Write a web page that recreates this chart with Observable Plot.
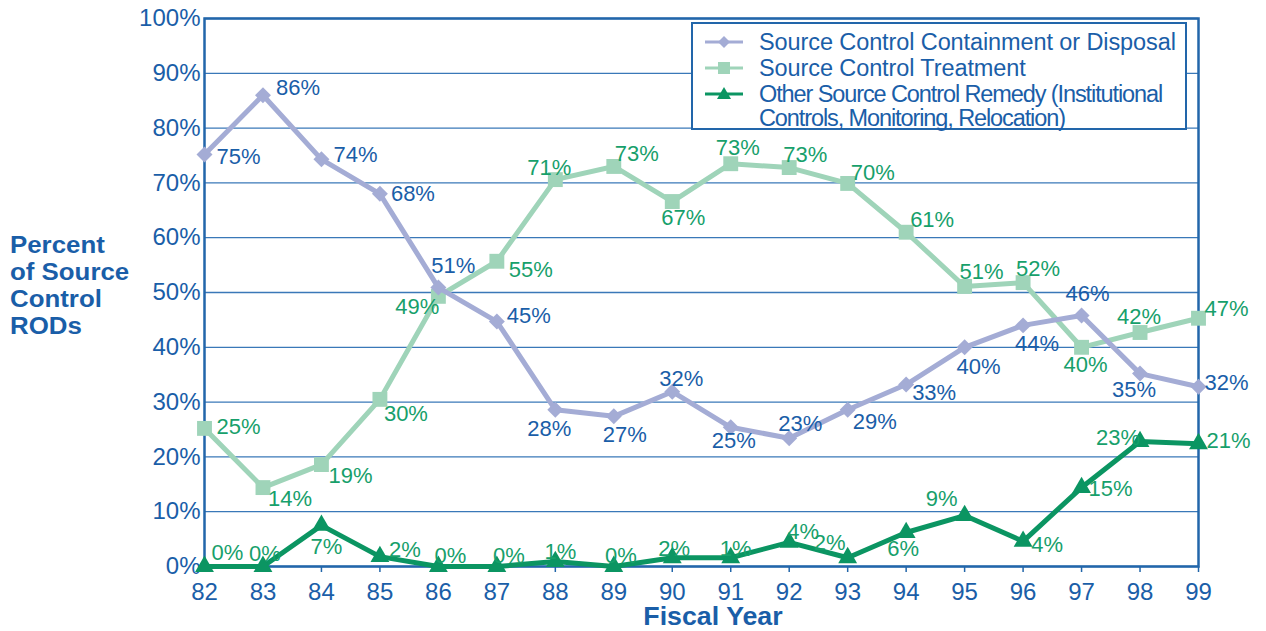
<!DOCTYPE html>
<html>
<head>
<meta charset="utf-8">
<script src="https://cdn.jsdelivr.net/npm/d3@7"></script>
<script src="https://cdn.jsdelivr.net/npm/@observablehq/plot@0.6"></script>
<style>
  html, body { margin: 0; padding: 0; background: #fff; }
  #wrap { position: relative; width: 1266px; height: 631px; overflow: hidden; font-family: "Liberation Sans", Arial, sans-serif; }
  #ytitle { position: absolute; left: 10px; top: 232px; font-weight: bold; font-size: 23.5px; line-height: 27px; color: #1a5ea8; transform: scaleX(1.1); transform-origin: left top; white-space: nowrap; }
  #xtitle { position: absolute; left: 713px; top: 602px; transform: translateX(-50%) scaleX(1.07); font-weight: bold; font-size: 25px; line-height: 29px; color: #1a5ea8; white-space: nowrap; }
  #legend { position: absolute; left: 691px; top: 22px; width: 492px; height: 104px; border: 2px solid #2266aa; background: #fff; color: #1a5ea8; font-size: 23.5px; }
  .item { position: absolute; left: 12px; display: flex; align-items: flex-start; }
  .item svg { flex: none; }
  .item span { margin-left: 16px; line-height: 24px; letter-spacing: -0.1px; white-space: nowrap; }
  .item.tight span { letter-spacing: -1.1px; }
</style>
</head>
<body>
<div id="wrap">
  <div id="chart"></div>
  <div id="ytitle">Percent<br>of Source<br>Control<br>RODs</div>
  <div id="xtitle">Fiscal Year</div>
  <div id="legend"></div>
</div>
<script>
// ---- data ----
const years = [82, 83, 84, 85, 86, 87, 88, 89, 90, 91, 92, 93, 94, 95, 96, 97, 98, 99];
const yTicks = [0, 10, 20, 30, 40, 50, 60, 70, 80, 90, 100];
const seriesNames = [
  "Source Control Containment or Disposal",
  "Source Control Treatment",
  "Other Source Control Remedy (Institutional Controls, Monitoring, Relocation)"
];
const containment = [75.2, 86, 74.3, 68, 50.9, 44.7, 28.6, 27.4, 31.9, 25.4, 23.4, 28.6, 33.2, 40, 44, 45.8, 35.2, 32.8];
const treatment   = [25.2, 14.4, 18.6, 30.5, 49.3, 55.7, 70.6, 73, 66.6, 73.5, 72.8, 69.9, 61, 51.1, 51.8, 40, 42.7, 45.3];
const other       = [0, 0, 7.5, 1.8, 0, 0, 0.9, 0, 1.6, 1.6, 4.4, 1.6, 6.2, 9.3, 4.6, 14.4, 22.8, 22.4];
const containmentLabels = ["75%","86%","74%","68%","51%","45%","28%","27%","32%","25%","23%","29%","33%","40%","44%","46%","35%","32%"];
const treatmentLabels   = ["25%","14%","19%","30%","49%","55%","71%","73%","67%","73%","73%","70%","61%","51%","52%","40%","42%","47%"];
const otherLabels       = ["0%","0%","7%","2%","0%","0%","1%","0%","2%","1%","4%","2%","6%","9%","4%","15%","23%","21%"];

// ---- label placement (pixel offsets of each label from its point) ----
const containmentDx = [34, 35, 34, 33, 15, 32, -6, 11, 9, 3, 11, 27, 28, 14, 14, 6, -6, 28];
const containmentDy = [3, -7, -4, 0, -22, -6, 19, 19, -13, 14, -14, 12, 8, 20, 19, -22, 16, -4];
const treatmentDx = [34, 27, 29, 26, -21, 34, -6, 23, 11, 7, 16, 25, 26, 17, 15, 4, -1, 28];
const treatmentDy = [-1, 11, 11, 15, 11, 9, -12, -13, 16, -16, -13, -10, -12, -15, -14, 18, -16, -9];
const otherDx = [23, 2, 5, 25, 12, 12, 5, 7, 2, 5, 14, -18, -3, -23, 24, 29, -22, 30];
const otherDy = [-14, -13, 22, -7, -11, -11, -10, -11, -9, -9, -10, -15, 16, -17, 4, 1, -4, -3];

// ---- styles ----
const BLUE_TEXT = "#1a5ea8";
const FRAME = "#2266aa";
const GRID = "#3a78b8";
const C_CONT = "#a4acd5";
const C_TREAT = "#9fd4b9";
const C_OTHER = "#0b9562";
const GREEN_TEXT = "#17a06b";

const mk = (vals, labels, dxs, dys) => years.map((yr, i) => ({year: yr, v: vals[i], label: labels[i], dx: dxs[i], dy: dys[i]}));
const dCont = mk(containment, containmentLabels, containmentDx, containmentDy);
const dTreat = mk(treatment, treatmentLabels, treatmentDx, treatmentDy);
const dOther = mk(other, otherLabels, otherDx, otherDy);

function labels(data, fill) {
  return data.map(d => Plot.text([d], {x: "year", y: "v", text: "label", dx: d.dx, dy: d.dy, fill, fontSize: 22, textAnchor: "middle"}));
}

const chart = Plot.plot({
  width: 1266,
  height: 631,
  marginLeft: 204,
  marginRight: 68,
  marginTop: 18,
  marginBottom: 65,
  style: {fontFamily: "'Liberation Sans', Arial, sans-serif", background: "transparent", overflow: "visible"},
  x: {domain: [82, 99]},
  y: {domain: [0, 100]},
  marks: [
    Plot.gridY(yTicks, {stroke: GRID, strokeOpacity: 1, strokeWidth: 1.3}),
    Plot.axisY({ticks: yTicks, tickFormat: d => d + "%", tickSize: 0, tickPadding: 4, fontSize: 24, color: BLUE_TEXT, label: null}),
    Plot.axisX({ticks: years, tickFormat: d => String(d), tickSize: 6, tickPadding: 10, fontSize: 24, color: BLUE_TEXT, stroke: FRAME, strokeWidth: 1.5, label: null}),
    Plot.frame({stroke: FRAME, strokeWidth: 2.5}),
    Plot.line(dTreat, {x: "year", y: "v", stroke: C_TREAT, strokeWidth: 5, strokeLinejoin: "miter"}),
    Plot.dot(dTreat, {x: "year", y: "v", symbol: "square", fill: C_TREAT, r: 8.4}),
    Plot.line(dCont, {x: "year", y: "v", stroke: C_CONT, strokeWidth: 5, strokeLinejoin: "miter"}),
    Plot.dot(dCont, {x: "year", y: "v", symbol: "diamond2", fill: C_CONT, r: 7.2}),
    Plot.line(dOther, {x: "year", y: "v", stroke: C_OTHER, strokeWidth: 5, strokeLinejoin: "miter"}),
    Plot.dot(dOther, {x: "year", y: "v", symbol: "triangle", fill: C_OTHER, r: 7}),
    ...labels(dCont, BLUE_TEXT),
    ...labels(dTreat, GREEN_TEXT),
    ...labels(dOther, GREEN_TEXT)
  ]
});
document.getElementById("chart").appendChild(chart);

// ---- legend ----
const legendSymbols = [
  {color: C_CONT, shape: "diamond"},
  {color: C_TREAT, shape: "square"},
  {color: C_OTHER, shape: "triangle"}
];
const legendTops = [6, 32, 58];
const legend = document.getElementById("legend");
seriesNames.forEach((name, i) => {
  const s = legendSymbols[i];
  let marker;
  if (s.shape === "diamond") marker = `<path d="M19,6 L25,12 L19,18 L13,12 Z" fill="${s.color}"/>`;
  else if (s.shape === "square") marker = `<rect x="13" y="6" width="12" height="12" fill="${s.color}"/>`;
  else marker = `<path d="M19,5 L26,17 L12,17 Z" fill="${s.color}"/>`;
  const item = document.createElement("div");
  item.className = i === 2 ? "item tight" : "item";
  item.style.top = legendTops[i] + "px";
  const text = i === 2 ? "Other Source Control Remedy (Institutional<br>Controls, Monitoring, Relocation)" : name;
  item.innerHTML = `<svg width="38" height="24"><line x1="0" x2="38" y1="12" y2="12" stroke="${s.color}" stroke-width="3"/>${marker}</svg><span>${text}</span>`;
  legend.appendChild(item);
});
</script>
</body>
</html>
